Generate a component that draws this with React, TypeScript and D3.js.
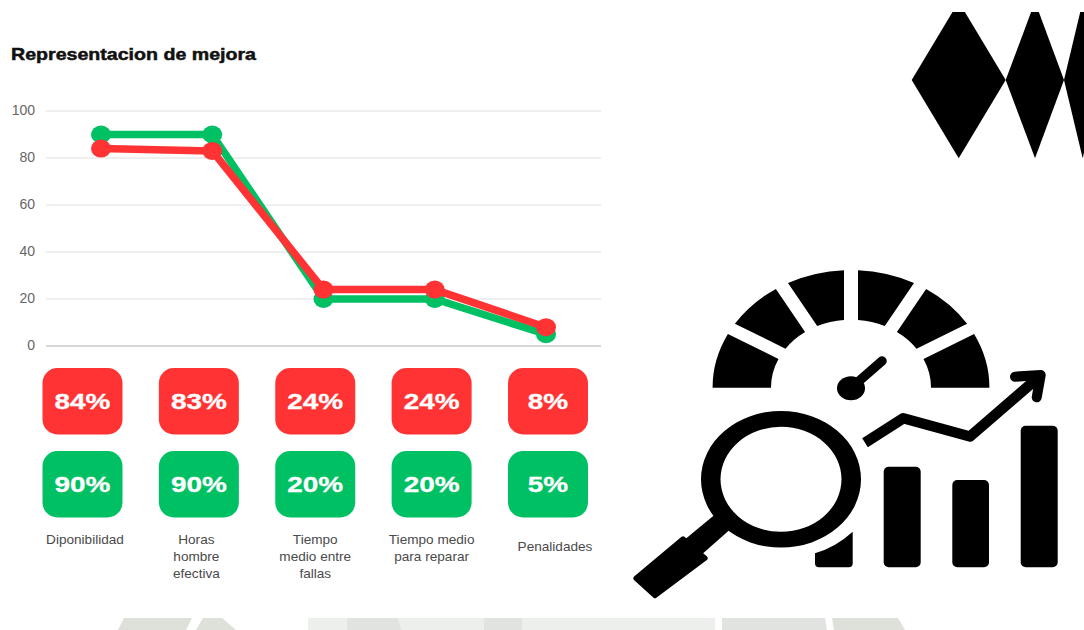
import React from "react";
import * as d3 from "d3";

const WIDTH = 1084;
const HEIGHT = 630;

// Chart content
const categories = ["Diponibilidad", "Horas hombre efectiva", "Tiempo medio entre fallas", "Tiempo medio para reparar", "Penalidades"];
const categoryLines = [["Diponibilidad"], ["Horas", "hombre", "efectiva"], ["Tiempo", "medio entre", "fallas"], ["Tiempo medio", "para reparar"], ["Penalidades"]];
const actualValues = [84, 83, 24, 24, 8];
const targetValues = [90, 90, 20, 20, 5];
const yTicks = [0, 20, 40, 60, 80, 100];
const title = "Representacion de mejora";

const RED = "#ff3333";
const GREEN = "#00c064";

// Pale strips along the bottom edge: [top x0, top x1, bottom x0, bottom x1, fill]
const bottomStrips: [number, number, number, number, string][] = [
  [124, 192, 118, 186, "#dde1d9"],
  [203, 222, 196, 236, "#dde1d9"],
  [308, 347, 308, 347, "#edefec"],
  [347, 398, 347, 402, "#e1e3e0"],
  [398, 484, 402, 484, "#edefec"],
  [484, 522, 484, 522, "#e1e3e0"],
  [522, 715, 522, 715, "#edefec"],
  [722, 825, 722, 827, "#e1e3e0"],
  [832, 898, 834, 905, "#dde1d9"],
];

// Rounded columns of the analytics icon: [x0, x1, top]
const iconBars: [number, number, number][] = [
  [883.7, 920.7, 466.7],
  [952.3, 989, 480],
  [1020.7, 1057.7, 425.7],
];

const gaugeSegments = d3.range(6).map((i) => i);

export default function App() {
  const y = d3.scaleLinear().domain([0, 100]).range([346, 111]);
  const x = d3.scalePoint<string>().domain(categories).range([101, 546]);
  const badgeX = d3.scalePoint<string>().domain(categories).range([82.5, 548]);

  const line = d3
    .line<number>()
    .x((_, i) => x(categories[i]) as number)
    .y((d) => y(d));

  const arc = d3
    .arc<number>()
    .innerRadius(80)
    .outerRadius(138.3)
    .padRadius(138.3)
    .padAngle(14 / 138.3)
    .startAngle((i) => ((i - 3) * Math.PI) / 6 - (i === 0 ? 0.2 : 0))
    .endAngle((i) => ((i - 2) * Math.PI) / 6 + (i === 5 ? 0.2 : 0));

  const series = [
    { values: targetValues, color: GREEN },
    { values: actualValues, color: RED },
  ];

  const badgeRows = [
    { values: actualValues, color: RED, top: 368 },
    { values: targetValues, color: GREEN, top: 451 },
  ];

  const labelFont = "'Liberation Sans', Arial, sans-serif";

  return (
    <svg
      width={WIDTH}
      height={HEIGHT}
      viewBox={`0 0 ${WIDTH} ${HEIGHT}`}
      style={{ position: "absolute", left: 0, top: 0, background: "#fff" }}
    >
      <defs>
        <clipPath id="diamond-clip">
          <rect x={900} y={12} width={184} height={160} />
        </clipPath>
        <clipPath id="gauge-clip">
          <rect x={-150} y={-150} width={300} height={150} />
        </clipPath>
      </defs>

      {bottomStrips.map(([a, b, c, d, fill], i) => (
        <polygon key={i} points={`${a},618 ${b},618 ${d},630 ${c},630`} fill={fill} />
      ))}

      <text
        x={11}
        y={60}
        fontFamily={labelFont}
        fontWeight={700}
        fontSize={17}
        textLength={245}
        lengthAdjust="spacingAndGlyphs"
        fill="#111"
        stroke="#111"
        strokeWidth={0.5}
      >
        {title}
      </text>

      {yTicks.map((t) => (
        <g key={t}>
          <line
            x1={46}
            x2={601}
            y1={y(t)}
            y2={y(t)}
            stroke={t === 0 ? "#c9c9c9" : "#e0e0e0"}
            strokeWidth={t === 0 ? 1.5 : 1.2}
          />
          <text x={35} y={y(t) + 4} textAnchor="end" fontFamily={labelFont} fontSize={14} fill="#666">
            {t}
          </text>
        </g>
      ))}

      {series.map((s) => (
        <g key={s.color}>
          <path d={line(s.values) as string} fill="none" stroke={s.color} strokeWidth={7.5} strokeLinejoin="round" />
          {s.values.map((v, i) => (
            <ellipse key={i} cx={x(categories[i])} cy={y(v)} rx={10} ry={9} fill={s.color} />
          ))}
        </g>
      ))}

      {badgeRows.map((row) =>
        row.values.map((v, i) => {
          const cx = badgeX(categories[i]) as number;
          return (
            <g key={`${row.color}-${i}`}>
              <rect x={cx - 40} y={row.top} width={80} height={66.5} rx={15} fill={row.color} />
              <text
                transform={`translate(${cx},${row.top + 41}) scale(1.27,1)`}
                textAnchor="middle"
                fontFamily={labelFont}
                fontWeight={700}
                fontSize={22}
                fill="#fff"
                stroke="#fff"
                strokeWidth={0.3}
              >
                {v}%
              </text>
            </g>
          );
        })
      )}

      {categoryLines.map((lines, i) => {
        const cx = (badgeX(categories[i]) as number) + (i === 4 ? 7 : i === 0 ? 2.5 : i === 1 ? -2.5 : 0);
        const base = i === 4 ? 551 : 544;
        return (
          <text key={i} textAnchor="middle" fontFamily={labelFont} fontSize={13.6} fill="#4a4a4a">
            {lines.map((t, j) => (
              <tspan key={j} x={cx} y={base + j * 17}>
                {t}
              </tspan>
            ))}
          </text>
        );
      })}

      {/* Harlequin ornament, top right */}
      <g clipPath="url(#diamond-clip)" fill="#000">
        <polygon points="911.7,80 958.7,1.7 1005.7,80 958.7,158.3" />
        <polygon points="1005.7,80 1035,1.7 1064,80 1035,158.3" />
        <polygon points="1064,80 1082.7,1.7 1101,80 1082.7,158.3" />
      </g>

      {/* Gauge */}
      <g transform="translate(851,387.7) scale(1,0.851)" clipPath="url(#gauge-clip)">
        {gaugeSegments.map((i) => (
          <path key={i} d={arc(i) as string} fill="#000" />
        ))}
      </g>
      <ellipse cx={851} cy={388.3} rx={14} ry={12} fill="#000" />
      <line x1={851} y1={388} x2={882} y2={361} stroke="#000" strokeWidth={9.5} strokeLinecap="round" />

      {/* Magnifying glass */}
      <path
        fillRule="evenodd"
        fill="#000"
        d="M701,479.3a80,68.3 0 1,0 160,0a80,68.3 0 1,0 -160,0Z M720.5,479.3a60.5,52.5 0 1,0 121,0a60.5,52.5 0 1,0 -121,0Z"
      />
      <polygon points="718,512 734,526 700,556 683,541" fill="#000" />
      <polygon
        points="683,538.5 705.5,558.3 655,596 635.5,578.3"
        fill="#000"
        stroke="#000"
        strokeWidth={4.5}
        strokeLinejoin="round"
      />

      {/* Rising columns and trend arrow */}
      <path d="M815,553.3Q836,547 852.7,531.7V563.3a4,4 0 0 1 -4,4H819a4,4 0 0 1 -4,-4Z" fill="#000" />
      {iconBars.map(([x0, x1, top], i) => (
        <rect key={i} x={x0} y={top} width={x1 - x0} height={567.3 - top} rx={5} fill="#000" />
      ))}
      <polyline
        points="865,442.7 903.3,418.3 970,436.5 1040,376"
        fill="none"
        stroke="#000"
        strokeWidth={10.5}
        strokeLinejoin="round"
      />
      <polyline
        points="1015,376.7 1040.7,375 1036.7,397.3"
        fill="none"
        stroke="#000"
        strokeWidth={10}
        strokeLinejoin="round"
        strokeLinecap="round"
      />
    </svg>
  );
}
